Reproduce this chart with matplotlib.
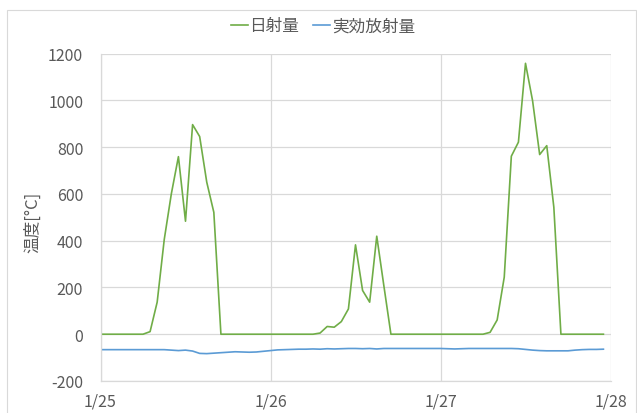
import matplotlib
matplotlib.use("Agg")
import matplotlib.pyplot as plt
import numpy as np
import pandas as pd
from matplotlib.patches import Rectangle

plt.rcParams['font.family'] = ['Noto Sans CJK JP', 'DejaVu Sans']
plt.rcParams['axes.unicode_minus'] = False

GREEN = "#70AD47"
BLUE = "#5B9BD5"
TEXT = "#595959"
GRID = "#D9D9D9"

# hourly samples, 1/25 00:00 .. 1/27 23:00
times = pd.date_range("2020-01-25 00:00", periods=72, freq="h")

solar = [
    0, 0, 0, 0, 0, 0, 0, 11, 137, 405, 600, 759, 483, 896, 845, 650, 521, 0, 0, 0, 0, 0, 0, 0,
    0, 0, 0, 0, 0, 0, 0, 5, 33, 30, 54, 108, 382, 187, 137, 419, 208, 0, 0, 0, 0, 0, 0, 0,
    0, 0, 0, 0, 0, 0, 0, 8, 61, 244, 761, 821, 1158, 998, 768, 806, 543, 0, 0, 0, 0, 0, 0, 0,
]
effective = [
    -66, -66, -66, -66, -66, -66, -66, -66, -66, -66, -68, -70, -68, -72, -82, -83, -81, -79, -77, -75, -76, -77, -76, -73,
    -70, -67, -66, -65, -64, -64, -63, -64, -62, -63, -62, -61, -61, -62, -61, -63, -61, -61, -61, -61, -61, -61, -61, -61,
    -61, -62, -63, -62, -61, -61, -61, -61, -61, -61, -61, -62, -65, -68, -70, -71, -71, -71, -71, -68, -66, -65, -65, -64,
]
legend_labels = ["日射量", "実効放射量"]
day_ticks = pd.date_range("2020-01-25", periods=4, freq="D")
day_labels = ["1/25", "1/26", "1/27", "1/28"]

fig = plt.figure(figsize=(6.37, 4.14), dpi=100)
fig.patches.append(Rectangle((7 / 637, -0.01), 629 / 637, 1 - 11 / 414 + 0.01,
                             transform=fig.transFigure, fill=False,
                             edgecolor=GRID, linewidth=0.8))

ax = fig.add_axes([100.5 / 637, 1 - 382 / 414, 510 / 637, 327.5 / 414])

ax.plot(times, solar, color=GREEN, lw=1.2, label=legend_labels[0])
ax.plot(times, effective, color=BLUE, lw=1.2, label=legend_labels[1])

ax.set_ylim(-200, 1200)
ax.set_yticks(np.arange(-200, 1201, 200))
ax.set_xlim(day_ticks[0], day_ticks[-1])
ax.set_xticks(day_ticks)
ax.set_xticklabels(day_labels)

ax.grid(True, color=GRID, lw=0.9)
ax.set_axisbelow(True)
for side in ["top", "right"]:
    ax.spines[side].set_visible(False)
for side in ["left", "bottom"]:
    ax.spines[side].set_color(GRID)
    ax.spines[side].set_linewidth(0.9)

ax.tick_params(length=0, labelsize=11.5, labelcolor=TEXT)
ax.tick_params(axis="y", pad=12.5)
ax.tick_params(axis="x", pad=8)

ax.set_ylabel("温度[°C]", fontsize=12, color=TEXT)
ax.yaxis.set_label_coords(-59 / 510, (382 - 222) / 327.5)

fig.legend(loc="center", bbox_to_anchor=(323 / 637, 1 - 27 / 414), ncol=2,
           frameon=False, fontsize=12, labelcolor=TEXT, handlelength=1.0,
           handletextpad=0.1, columnspacing=0.85)

fig.savefig("out.png", dpi=100)
